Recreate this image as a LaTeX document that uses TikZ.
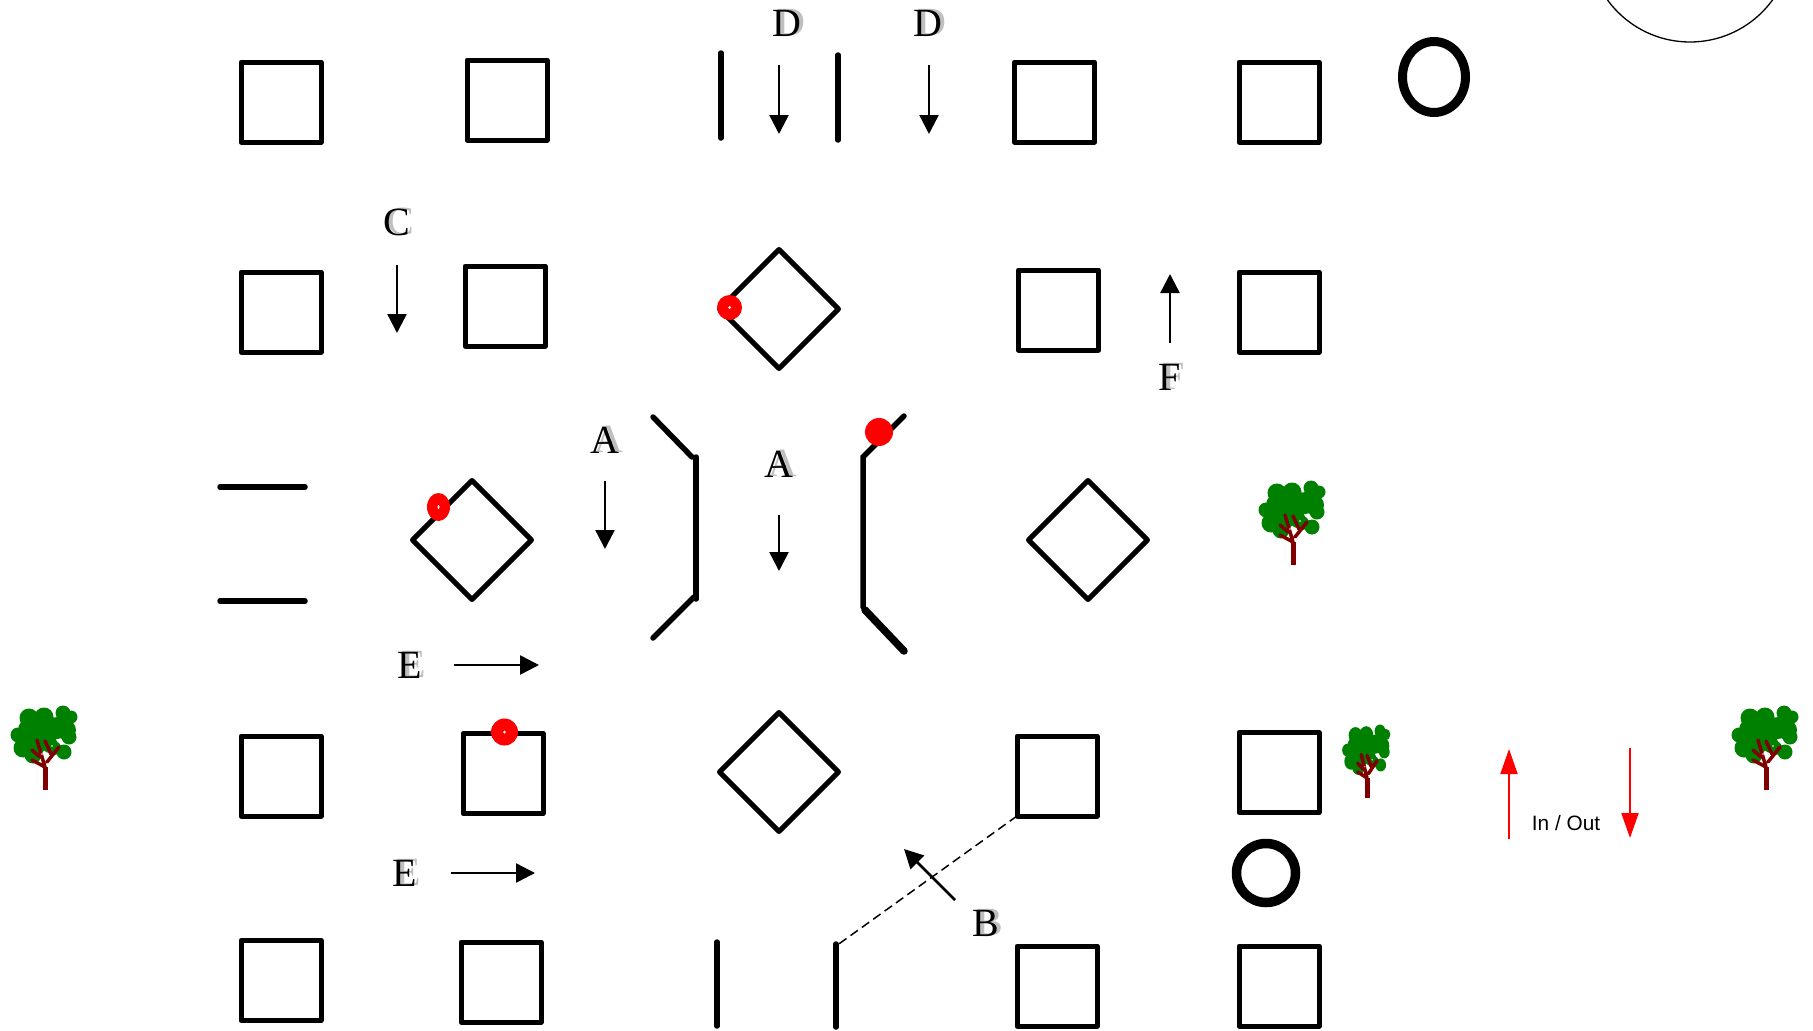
\documentclass[tikz,border=0pt]{standalone}
\usepackage{fontspec}
\setmainfont{Liberation Serif}
\newfontfamily\labelsans{Liberation Sans}
\usetikzlibrary{arrows.meta,shapes.geometric}
\definecolor{treegreen}{RGB}{0,128,0}
\definecolor{treebrown}{RGB}{128,0,0}
\tikzset{
  sq/.style={draw=black,line width=5pt,rectangle,minimum size=80pt,inner sep=0pt,outer sep=0pt,line join=round},
  dia/.style={draw=black,line width=5pt,diamond,aspect=1,minimum width=119pt,minimum height=119pt,inner sep=0pt,outer sep=0pt,line join=round},
  wall/.style={draw=black,line width=5.5pt,line cap=round},
  flow/.style={draw=black,line width=2.5pt,-{Stealth[length=19pt,width=19pt,inset=0pt]}},
  redflow/.style={draw=red,line width=2pt,-{Stealth[length=25pt,width=17pt,inset=0pt]}},
  reddot/.style={circle,fill=red,inner sep=0pt,minimum size=25pt},
  pin/.style={circle,fill=white,inner sep=0pt,minimum size=3pt},
  lab/.style={font=\fontsize{40}{40}\selectfont,inner sep=0pt,text=black},
  labshadow/.style={font=\fontsize{40}{40}\selectfont,inner sep=0pt,text=black!25},
  tree/.pic={
    \fill[treegreen]
      (-16,-72) circle (9.5) (-1,-73) circle (9.5) (18,-77) circle (7.5) (26,-73) circle (6.5)
      (21,-60) circle (10) (24,-53) circle (7.5) (19,-38) circle (7.5) (9,-42) circle (7)
      (-27,-55) circle (7.5) (-22,-42) circle (9.5) (-12,-35) circle (8.5) (-15,-60) circle (12)
      (0,-57) circle (13) (12,-62) circle (11) (-8,-45) circle (9) (5,-45) circle (8);
    \draw[treebrown,line width=5pt] (0,0) -- (0,-23);
    \draw[treebrown,line width=3.5pt,line cap=round]
      (0,-23) -- (-8,-50) (0,-23) -- (-13,-30) (-5,-33) -- (-13,-40)
      (2,-28) -- (14,-43) (6,-36) -- (0,-49);
    \fill[white] (-3,-36) circle (.8) (7,-44) circle (.9);
  }
}
\newcommand{\shlabel}[3]{%
  \node[labshadow] (#1s) at (#2+4,#3-1) {\phantom{}#1};
}
\begin{document}
\begin{tikzpicture}[x=1pt,y=-1pt]
\useasboundingbox (0,0) rectangle (1813,1031);
\fill[white] (0,0) rectangle (1813,1031);
% squares
\node[sq] (s1)  at (281,102) {};
\node[sq] (s2)  at (507,100) {};
\node[sq] (s3)  at (1054.5,102) {};
\node[sq] (s4)  at (1279,102) {};
\node[sq] (s5)  at (281,312) {};
\node[sq] (s6)  at (505,306) {};
\node[sq] (s7)  at (1058.5,310) {};
\node[sq] (s8)  at (1279,312) {};
\node[sq] (s9)  at (281,776) {};
\node[sq] (s10) at (503,773.5) {};
\node[sq] (s11) at (1057,776) {};
\node[sq] (s12) at (1279,772.5) {};
\node[sq] (s13) at (281,980.5) {};
\node[sq] (s14) at (501,982) {};
\node[sq] (s15) at (1057,986) {};
\node[sq] (s16) at (1279,986) {};
% diamonds
\node[dia] (d1) at (779,309) {};
\node[dia] (d2) at (472,540) {};
\node[dia] (d3) at (1088,540) {};
\node[dia] (d4) at (779,772) {};
% walls
\draw[wall] (721,53) -- (721,138);
\draw[wall] (838,55) -- (838,140);
\draw[wall] (717,942) -- (717,1026);
\coordinate (gate) at (836,946);
\draw[wall] (836,944) -- (836,1027);
\draw[wall] (220,487) -- (305,487);
\draw[wall] (220,601) -- (305,601);
\draw[wall] (653,417) -- (692,457);
\draw[wall] (696,457) -- (696,599);
\draw[wall] (694,597) -- (653,638);
\draw[wall] (863,607) -- (863,457) -- (904,416);
\draw[wall,line width=7.5pt] (865,610) -- (904,651);
% dashed link
\draw[black,line width=1.5pt,dash pattern=on 9pt off 5pt] (s11.south west) -- (gate);
% red points
\node[reddot] (r1) at (729.5,307.5) {};
\node[pin] (r1c) at (r1) {};
\node[reddot,ellipse,minimum width=23pt,minimum height=28pt] (r2) at (438.5,507) {};
\node[pin,ellipse,minimum width=2pt,minimum height=4pt] (r2c) at (r2) {};
\node[reddot,minimum size=27pt] (r3) at (504.5,732) {};
\node[pin] (r3c) at (r3) {};
\node[reddot,minimum size=28pt] (r4) at (879,432) {};
% rings and big circle
\node[draw=black,line width=9pt,ellipse,minimum width=63pt,minimum height=71pt,inner sep=0pt,outer sep=0pt] (ring1) at (1434,77) {};
\node[draw=black,line width=9.5pt,circle,minimum size=59pt,inner sep=0pt,outer sep=0pt] (ring2) at (1266,873) {};
\node[draw=black,line width=1.3pt,circle,minimum size=204pt,inner sep=0pt,outer sep=0pt] (big) at (1690,-60) {};
% labels: shadow then text
\foreach \t/\n/\x/\y in {D/l1/787/23,D/l2/928/23,C/l3/397/222,A/l4/605/440,A/l5/779,464,F/l6/1170/377,E/l7/410/665,E/l8/405/873,B/l9/986/923}{}
\node[labshadow] (l1s) at (791,22) {D};  \node[lab] (l1) at (787,23) {D};
\node[labshadow] (l2s) at (932,22) {D};  \node[lab] (l2) at (928,23) {D};
\node[labshadow] (l3s) at (401,221) {C}; \node[lab] (l3) at (397,222) {C};
\node[labshadow] (l4s) at (609,439) {A}; \node[lab] (l4) at (605,440) {A};
\node[labshadow] (l5s) at (783,463) {A}; \node[lab] (l5) at (779,464) {A};
\node[labshadow] (l6s) at (1174,376) {F};\node[lab] (l6) at (1170,377) {F};
\node[labshadow] (l7s) at (414,664) {E}; \node[lab] (l7) at (410,665) {E};
\node[labshadow] (l8s) at (409,872) {E}; \node[lab] (l8) at (405,873) {E};
\node[labshadow] (l9s) at (990,922) {B}; \node[lab] (l9) at (986,923) {B};
% arrows
\coordinate (a1a) at (779,65);  \coordinate (a1b) at (779,134);
\coordinate (a2a) at (929,65);  \coordinate (a2b) at (929,134);
\coordinate (a3a) at (397,265); \coordinate (a3b) at (397,333);
\coordinate (a4a) at (605,481); \coordinate (a4b) at (605,549);
\coordinate (a5a) at (779,515); \coordinate (a5b) at (779,571);
\coordinate (a6a) at (1170,343);\coordinate (a6b) at (1170,274);
\coordinate (a7a) at (454,665); \coordinate (a7b) at (539,665);
\coordinate (a8a) at (451,873); \coordinate (a8b) at (535,873);
\coordinate (a9a) at (955,900); \coordinate (a9b) at (904,849);
\foreach \k in {1,...,9}{\draw[flow] (a\k a) -- (a\k b);}
\coordinate (ra) at (1509,839); \coordinate (rb) at (1509,749);
\coordinate (rc) at (1630,748); \coordinate (rd) at (1630,838);
\draw[redflow] (ra) -- (rb);
\draw[redflow] (rc) -- (rd);
\node[font=\labelsans\fontsize{20.8}{24}\selectfont,inner sep=0pt] (io) at (1566,823) {In / Out};
% trees
\pic at (45,790) {tree};
\pic at (1766,790) {tree};
\pic at (1293,565) {tree};
\pic[xscale=.72,yscale=.87] at (1367,798) {tree};
\end{tikzpicture}
\end{document}
